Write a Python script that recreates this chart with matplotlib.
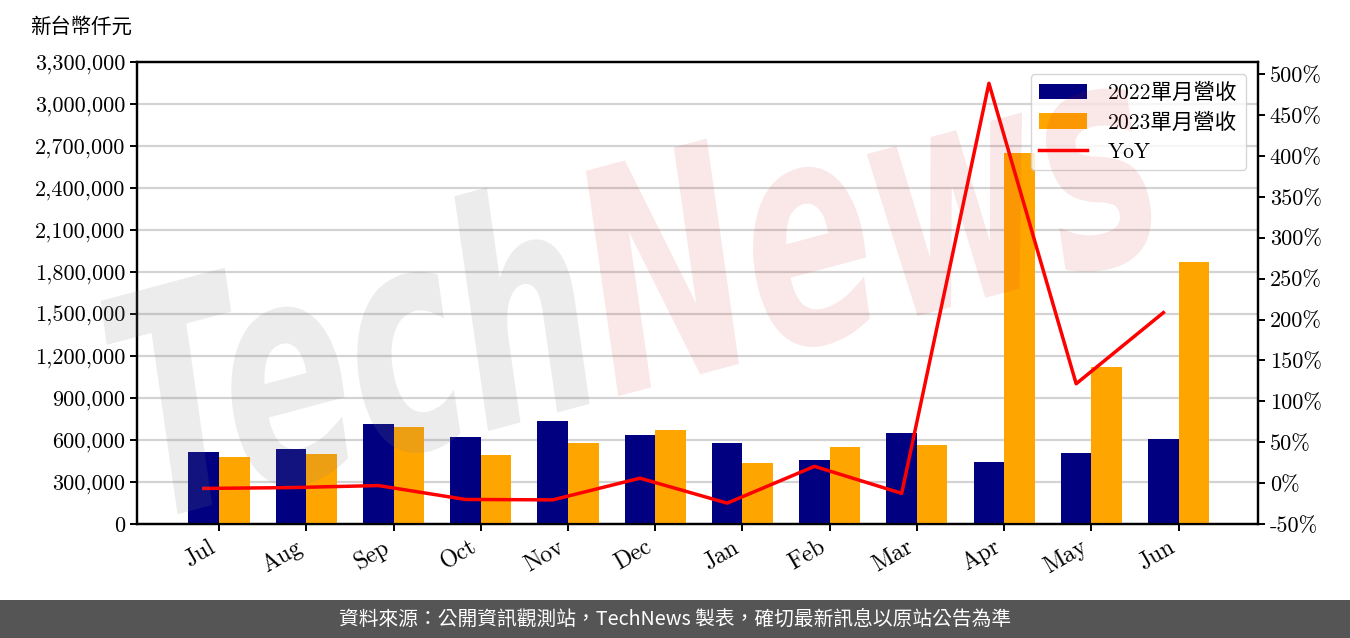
import numpy as np
import matplotlib
matplotlib.use("Agg")
import matplotlib.pyplot as plt
from matplotlib.ticker import FuncFormatter, MultipleLocator
from matplotlib.textpath import TextPath
from matplotlib.font_manager import FontProperties
from matplotlib.patches import PathPatch
from matplotlib.transforms import Affine2D

# 資料
months = ['Jul', 'Aug', 'Sep', 'Oct', 'Nov', 'Dec', 'Jan', 'Feb', 'Mar', 'Apr', 'May', 'Jun']
rev_2022 = [514000, 536000, 714000, 621000, 736000, 636000, 579000, 457000, 650000, 443000, 507000, 607000]
rev_2023 = [479000, 500000, 693000, 493000, 579000, 671000, 436000, 550000, 564000, 2650000, 1121000, 1871000]
yoy = [-6.5, -5.5, -3.0, -20.0, -20.5, 6.0, -24.5, 20.5, -12.5, 489.0, 121.5, 208.5]

serif = ['cmr10', 'Noto Sans CJK TC']
plt.rcParams['font.family'] = serif
plt.rcParams['axes.unicode_minus'] = False
plt.rcParams['axes.formatter.use_mathtext'] = False

fig = plt.figure(figsize=(13.5, 6.38), dpi=100)
ax = fig.add_axes([0.1015, 0.1787, 0.8304, 0.7241])
ax2 = ax.twinx()

x = np.arange(len(months))
w = 0.35
b1 = ax.bar(x - w / 2, rev_2022, w, color='#000080', zorder=3)
b2 = ax.bar(x + w / 2, rev_2023, w, color='#FFA500', zorder=3)
l1, = ax2.plot(x - w / 2, yoy, color='#FF0000', lw=2.5)

ax.set_xlim(-0.94, 11.91)
ax.set_ylim(0, 3300000)
ax.yaxis.set_major_locator(MultipleLocator(300000))
ax.yaxis.set_major_formatter(FuncFormatter(lambda v, p: f'{int(v):,}'))
ax.grid(axis='y', color='#d3d3d3', lw=1.6, zorder=0)
ax.set_axisbelow(True)

ax2.set_ylim(-50, 515)
ax2.yaxis.set_major_locator(MultipleLocator(50))
ax2.yaxis.set_major_formatter(FuncFormatter(lambda v, p: f'{int(round(v))}%'))

ax.set_xticks(x)
ax.set_xticklabels(months, rotation=30, ha='right')

for a in (ax, ax2):
    for s in a.spines.values():
        s.set_linewidth(1.6)
    a.tick_params(labelsize=16, width=1.4, length=5)
ax.tick_params(axis='x', labelsize=17)

fig.text(0.022, 0.957, '新台幣仟元', fontsize=14.7, family=['Noto Sans CJK TC'], va='center')

ax2.legend([b1, b2, l1], ['2022單月營收', '2023單月營收', 'YoY'], loc='upper right',
           fontsize=15.5, framealpha=0.8, handlelength=2.2, borderaxespad=0.55,
           labelspacing=0.45, handletextpad=1.0, borderpad=0.4)

# 浮水印
fp = FontProperties(family='DejaVu Sans', weight='bold', style='italic')
p1 = TextPath((0, 0), 'Tech', size=1, prop=fp)
adv = p1.get_extents().x1 + 0.06
p2 = TextPath((adv, 0), 'News', size=1, prop=fp)
full_w = p2.get_extents().x1
sx = 10.6 / full_w
tr = Affine2D().scale(sx, 3.1).rotate_deg(15).translate(1.45, 1.15) + fig.dpi_scale_trans
fig.add_artist(PathPatch(p1, transform=tr, facecolor='#808080', edgecolor='none', alpha=0.15, zorder=5))
fig.add_artist(PathPatch(p2, transform=tr, facecolor='#d02020', edgecolor='none', alpha=0.1, zorder=5))

# 頁尾
fig.patches.append(plt.Rectangle((0, 0), 1, 38 / 638, transform=fig.transFigure,
                                 facecolor='#555555', edgecolor='none', zorder=0))
fig.text(0.5, 19 / 638, '資料來源：公開資訊觀測站，TechNews 製表，確切最新訊息以原站公告為準',
         color='white', fontsize=14.2, family=['Noto Sans CJK TC'], ha='center', va='center')

fig.savefig('out.png', dpi=100)
